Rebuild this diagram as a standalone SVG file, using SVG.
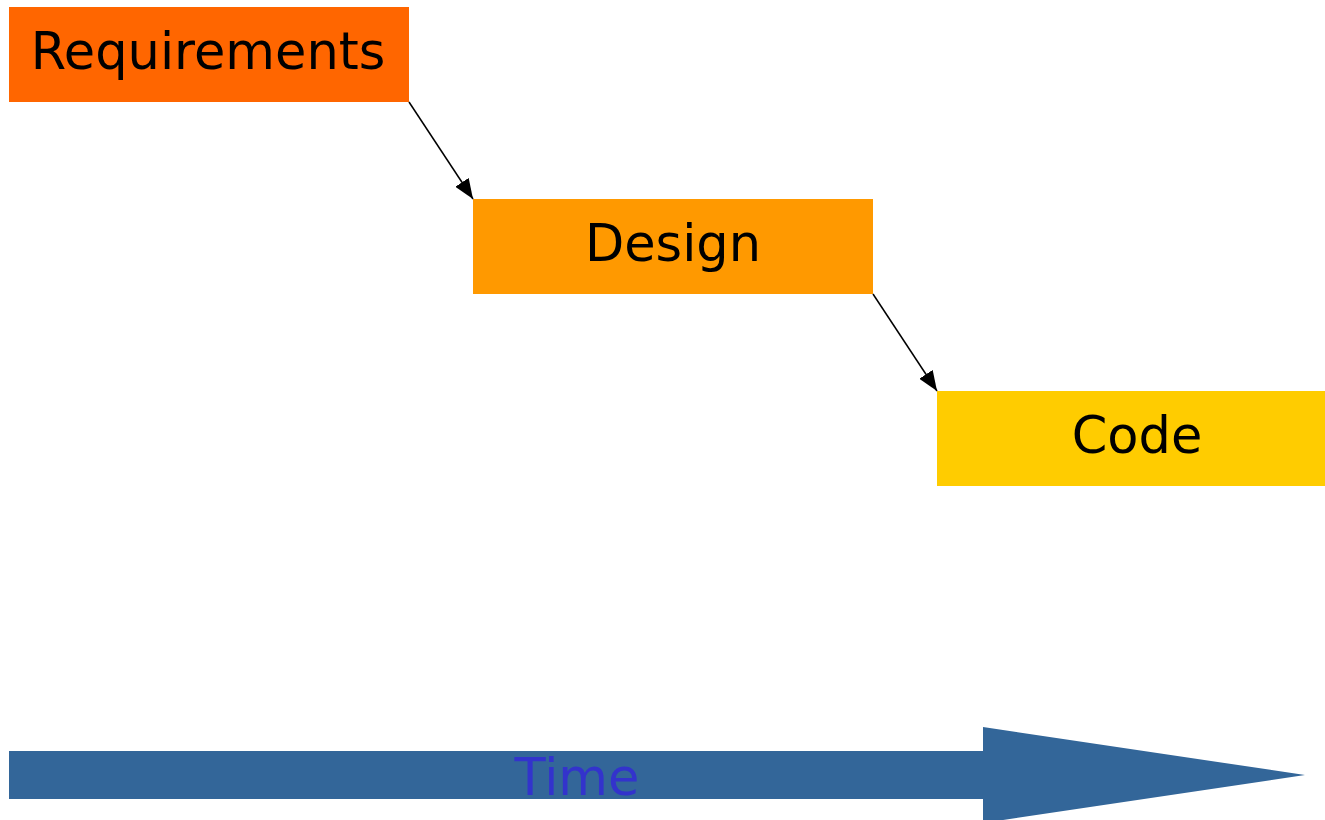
<svg xmlns="http://www.w3.org/2000/svg" width="1325" height="820" viewBox="0 0 1325 820">
<style>
.lbl{font-family:"DejaVu Sans","Liberation Sans",sans-serif;font-size:51px;fill:#000;text-anchor:middle}
.edge{stroke:#000;stroke-width:1.5;fill:none}
</style>
<defs>
<marker id="ah" markerWidth="20" markerHeight="16" refX="20" refY="8" orient="auto" markerUnits="userSpaceOnUse" viewBox="0 0 20 16">
<path d="M0,0 L20,8 L0,16 z" fill="#000"/>
</marker>
</defs>
<rect width="1325" height="820" fill="#fff"/>
<g id="connectors">
<line class="edge" x1="409" y1="102" x2="473" y2="199" marker-end="url(#ah)"/>
<line class="edge" x1="873" y1="294" x2="937" y2="391" marker-end="url(#ah)"/>
</g>
<g id="requirements">
<rect x="9" y="7" width="400" height="95" fill="#FF6600"/>
<text class="lbl" x="208" y="69">Requirements</text>
</g>
<g id="design">
<rect x="473" y="199" width="400" height="95" fill="#FF9900"/>
<text class="lbl" x="673" y="261">Design</text>
</g>
<g id="code">
<rect x="937" y="391" width="400" height="95" fill="#FFCC00"/>
<text class="lbl" x="1137" y="453">Code</text>
</g>
<g id="time">
<path d="M9,751 L983,751 L983,727 L1305,775 L983,823 L983,799 L9,799 z" fill="#336699"/>
<text class="lbl" x="577" y="795" style="fill:#3333CC">Time</text>
</g>
</svg>
